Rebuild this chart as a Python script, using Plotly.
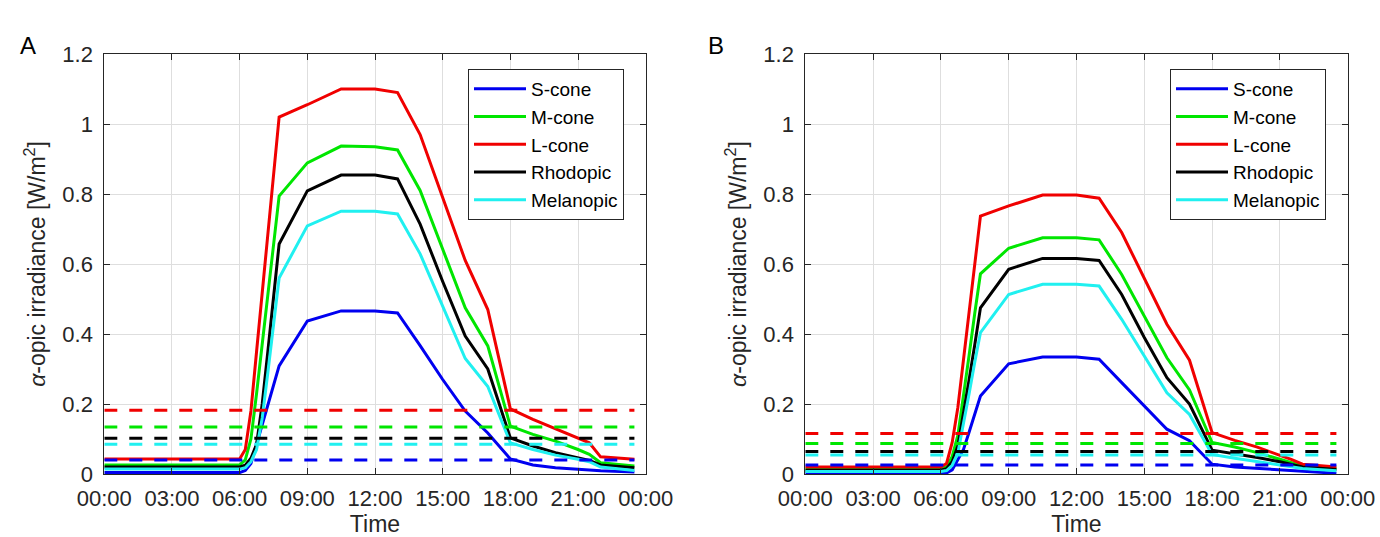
import plotly.graph_objects as go

# ---------------- data ----------------
hours = [0, 6.0, 6.25, 6.5, 6.75, 7.0, 7.25, 7.5, 7.75, 9, 10.5, 12, 13, 14, 15, 16,
         17, 18, 19, 20, 21, 21.5, 22, 23.5]
series_names = ["S-cone", "M-cone", "L-cone", "Rhodopic", "Melanopic"]
colors = ["#0000f0", "#00e600", "#f00000", "#000000", "#20f0f0"]

a_s = [0.004, 0.004, 0.01, 0.03, 0.085, 0.141, 0.197, 0.253, 0.309, 0.437, 0.466, 0.466, 0.46,
       0.367, 0.27, 0.18, 0.117, 0.043, 0.026, 0.018, 0.013, 0.011, 0.009, 0.006]
a_m = [0.026, 0.026, 0.04, 0.10, 0.23, 0.37, 0.51, 0.65, 0.794, 0.889, 0.937, 0.935, 0.926,
       0.81, 0.64, 0.475, 0.366, 0.137, 0.113, 0.094, 0.07, 0.056, 0.032, 0.023]
a_l = [0.043, 0.043, 0.07, 0.18, 0.35, 0.52, 0.69, 0.85, 1.02, 1.055, 1.10, 1.10, 1.09,
       0.97, 0.79, 0.61, 0.47, 0.186, 0.156, 0.13, 0.104, 0.089, 0.049, 0.042]
a_rh = [0.02, 0.02, 0.025, 0.045, 0.085, 0.20, 0.35, 0.50, 0.657, 0.809, 0.854, 0.854, 0.843,
        0.714, 0.55, 0.394, 0.30, 0.103, 0.08, 0.061, 0.047, 0.039, 0.026, 0.018]
a_mel = [0.014, 0.014, 0.018, 0.035, 0.07, 0.16, 0.29, 0.42, 0.56, 0.709, 0.751, 0.751, 0.743,
         0.629, 0.48, 0.33, 0.25, 0.089, 0.07, 0.054, 0.042, 0.035, 0.02, 0.01]
a_thresh = [0.04, 0.134, 0.182, 0.102, 0.085]

b_s = [0.002, 0.002, 0.003, 0.012, 0.04, 0.07, 0.12, 0.17, 0.223, 0.315, 0.334, 0.334, 0.328,
       0.261, 0.195, 0.128, 0.095, 0.028, 0.02, 0.016, 0.011, 0.009, 0.007, 0.002]
b_m = [0.015, 0.015, 0.02, 0.05, 0.11, 0.22, 0.34, 0.46, 0.572, 0.645, 0.675, 0.675, 0.669,
       0.57, 0.45, 0.332, 0.24, 0.09, 0.077, 0.061, 0.042, 0.032, 0.023, 0.016]
b_l = [0.02, 0.02, 0.03, 0.09, 0.19, 0.33, 0.47, 0.61, 0.737, 0.766, 0.797, 0.797, 0.788,
       0.69, 0.56, 0.428, 0.325, 0.118, 0.096, 0.077, 0.053, 0.042, 0.028, 0.02]
b_rh = [0.011, 0.011, 0.015, 0.035, 0.08, 0.17, 0.27, 0.37, 0.475, 0.585, 0.616, 0.616, 0.61,
        0.513, 0.39, 0.275, 0.2, 0.068, 0.058, 0.047, 0.035, 0.028, 0.02, 0.013]
b_mel = [0.007, 0.007, 0.01, 0.025, 0.06, 0.14, 0.23, 0.32, 0.404, 0.513, 0.542, 0.542, 0.537,
         0.442, 0.335, 0.232, 0.17, 0.056, 0.045, 0.035, 0.026, 0.02, 0.016, 0.009]
b_thresh = [0.026, 0.087, 0.116, 0.064, 0.054]

thresh_span = [0, 23.5]
xtick_vals = [0, 3, 6, 9, 12, 15, 18, 21, 24]
xtick_text = ["00:00", "03:00", "06:00", "09:00", "12:00", "15:00", "18:00", "21:00", "00:00"]
ytick_vals = [0, 0.2, 0.4, 0.6, 0.8, 1.0, 1.2]
ytick_text = ["0", "0.2", "0.4", "0.6", "0.8", "1", "1.2"]
panel_labels = ["A", "B"]

# ---------------- figure ----------------
W, H = 1380, 537
FONT = "Liberation Sans, Arial, Helvetica, sans-serif"
fig = go.Figure()

panels = [
    ("x", "y", "legend", [a_s, a_m, a_l, a_rh, a_mel], a_thresh),
    ("x2", "y2", "legend2", [b_s, b_m, b_l, b_rh, b_mel], b_thresh),
]
for xa, ya, leg, vals, thr in panels:
    for name, col, v in zip(series_names, colors, vals):
        fig.add_trace(go.Scatter(x=hours, y=v, mode="lines", name=name,
                                 line=dict(color=col, width=3),
                                 xaxis=xa, yaxis=ya, legend=leg, legendgroup=leg + name,
                                 showlegend=True))
    for name, col, t in zip(series_names, colors, thr):
        fig.add_trace(go.Scatter(x=thresh_span, y=[t, t], mode="lines", name=name,
                                 line=dict(color=col, width=3, dash="13px,12px"),
                                 xaxis=xa, yaxis=ya, showlegend=False))

def px_x(p):
    return p / W

def px_y(p):
    return (H - p) / H

dom_y = [px_y(474), px_y(54)]
axis_common = dict(showline=True, linecolor="#262626", linewidth=1, mirror="ticks",
                   ticks="inside", ticklen=6, tickcolor="#262626",
                   showgrid=True, gridcolor="#dedede", gridwidth=1, zeroline=False,
                   tickfont=dict(family=FONT, size=22, color="#262626"),
                   automargin=False)
TITLE_FONT = dict(family=FONT, size=23, color="#262626")
YTITLE = "<i>α</i>-opic irradiance [W/m<sup>2</sup>]"

legend_common = dict(yanchor="top", xanchor="left", bgcolor="white", bordercolor="#262626",
                     borderwidth=1, font=dict(family=FONT, size=19, color="#000000"),
                     itemwidth=52, traceorder="grouped", tracegroupgap=0)

fig.update_layout(
    width=W, height=H, autosize=False,
    margin=dict(l=0, r=0, t=0, b=0),
    paper_bgcolor="white", plot_bgcolor="white",
    font=dict(family=FONT, color="#262626"),
    xaxis=dict(domain=[px_x(104.3), px_x(645.7)], range=[0, 24], tickvals=xtick_vals,
               ticktext=xtick_text, anchor="y", ticklabelstandoff=5,
               title=dict(text="Time", font=TITLE_FONT, standoff=8),
               **axis_common),
    yaxis=dict(domain=dom_y, range=[0, 1.2], tickvals=ytick_vals, ticktext=ytick_text,
               anchor="x", ticklabelstandoff=6,
               title=dict(text=YTITLE, font=TITLE_FONT, standoff=10),
               **axis_common),
    xaxis2=dict(domain=[px_x(805.3), px_x(1347.7)], range=[0, 24], tickvals=xtick_vals,
                ticktext=xtick_text, anchor="y2", ticklabelstandoff=5,
                title=dict(text="Time", font=TITLE_FONT, standoff=8),
                **axis_common),
    yaxis2=dict(domain=dom_y, range=[0, 1.2], tickvals=ytick_vals, ticktext=ytick_text,
                anchor="x2", ticklabelstandoff=6,
                title=dict(text=YTITLE, font=TITLE_FONT, standoff=10),
                **axis_common),
    legend=dict(x=px_x(468), y=px_y(69), **legend_common),
    legend2=dict(x=px_x(1170), y=px_y(69), **legend_common),
    showlegend=True,
)

fig.add_annotation(text=panel_labels[0], x=px_x(18), y=px_y(30), xref="paper", yref="paper",
                   showarrow=False, font=dict(family=FONT, size=24, color="#000000"))
fig.add_annotation(text=panel_labels[1], x=px_x(716), y=px_y(30), xref="paper", yref="paper",
                   showarrow=False, font=dict(family=FONT, size=24, color="#000000"))

fig.write_html("out.html", config={"displayModeBar": False},
               post_script="document.body.style.margin='0';document.body.style.overflow='hidden';")
